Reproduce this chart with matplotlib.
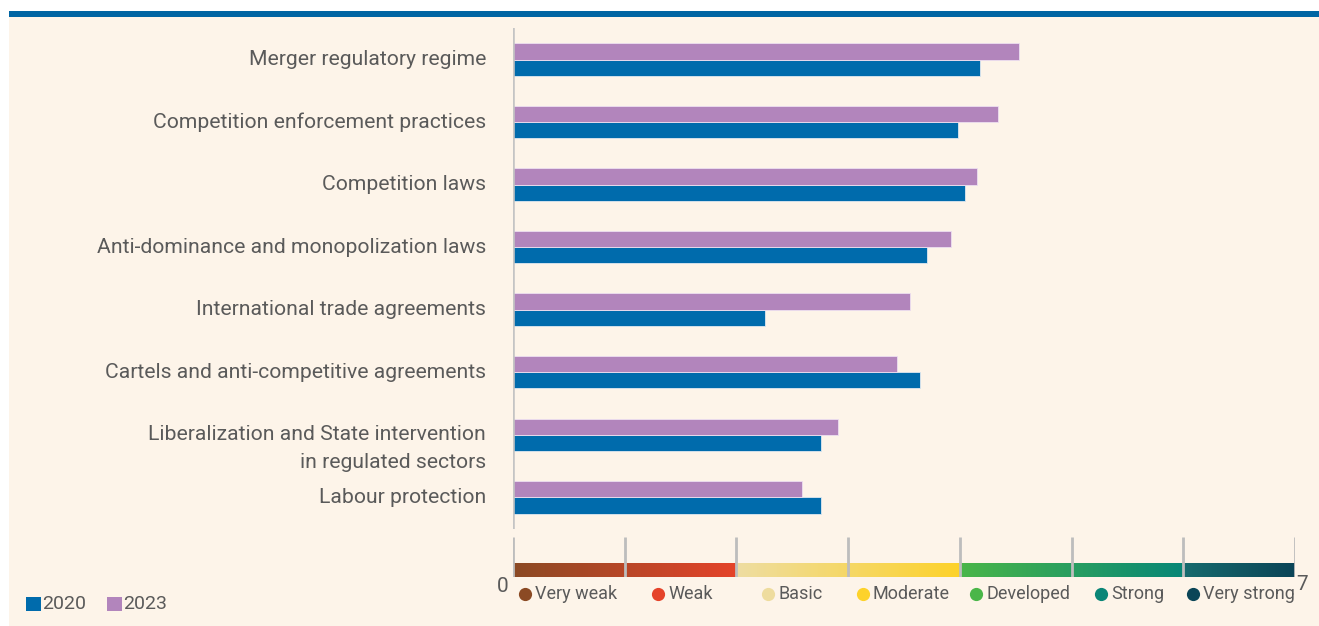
import numpy as np
import matplotlib
matplotlib.use("Agg")
import matplotlib.pyplot as plt
from matplotlib import font_manager
from matplotlib.colors import to_rgb
from matplotlib.patches import Rectangle

# pick a narrow sans if we have one
names = {f.name for f in font_manager.fontManager.ttflist}
FONT = "Liberation Sans Narrow" if "Liberation Sans Narrow" in names else "Roboto"
plt.rcParams["font.family"] = [FONT, "DejaVu Sans"]

# data (scale 0-7)
categories = [
    "Merger regulatory regime",
    "Competition enforcement practices",
    "Competition laws",
    "Anti-dominance and monopolization laws",
    "International trade agreements",
    "Cartels and anti-competitive agreements",
    "Liberalization and State intervention\nin regulated sectors",
    "Labour protection",
]
values_2020 = [4.18, 3.98, 4.05, 3.71, 2.26, 3.64, 2.76, 2.76]
values_2023 = [4.53, 4.34, 4.15, 3.92, 3.55, 3.44, 2.91, 2.59]
series_names = ["2020", "2023"]

scale_min, scale_max = 0, 7
levels = ["Very weak", "Weak", "Basic", "Moderate", "Developed", "Strong", "Very strong"]

# style
BLUE = "#006BAC"
PURPLE = "#B285BC"
CREAM = "#FDF4E9"
TEXT = "#5A5A5A"
GRID = "#BDBDBD"
level_colors = ["#8B4A24", "#E5432A", "#EEDC9E", "#FDD22A", "#4AB649", "#0A8677", "#0B4557"]
# gradient stops along the 0-7 scale
grad_stops = [
    (0.0, "#8B4A24"), (2.0, "#E5432A"),
    (2.0, "#EEDDA2"), (4.0, "#FDD22A"),
    (4.0, "#4AB649"), (6.0, "#078777"),
    (6.0, "#176B6E"), (7.0, "#0B4457"),
]

W, H = 1319, 626
fig = plt.figure(figsize=(W / 100, H / 100), dpi=100)
fig.patch.set_facecolor("white")


def frac(x0, y0, x1, y1):
    # pixel box -> figure fraction rect
    return [x0 / W, 1 - y1 / H, (x1 - x0) / W, (y1 - y0) / H]


# background layer in pixel coords
bg = fig.add_axes([0, 0, 1, 1], zorder=0)
bg.set_xlim(0, W)
bg.set_ylim(H, 0)
bg.axis("off")
bg.add_patch(Rectangle((9, 17), W - 9, H - 17, color=CREAM, lw=0))
bg.add_patch(Rectangle((9, 11), W - 9, 5.5, color="#0065A3", lw=0))

# main bars
ax = fig.add_axes(frac(513, 28.5, 1295, 528.5), zorder=1)
ax.set_facecolor("none")
y = np.arange(len(categories))
h = 0.26
ax.barh(y + h / 2, values_2020, height=h, color=BLUE, edgecolor="#dfe8f0", lw=0.6)
ax.barh(y - h / 2, values_2023, height=h, color=PURPLE, edgecolor="#eddff0", lw=0.6)
ax.set_xlim(scale_min, scale_max)
ax.set_ylim(len(categories) - 0.5, -0.5)
for s in ax.spines.values():
    s.set_visible(False)
ax.axvline(0, color="#C4C4C4", lw=2.6, zorder=3)
ax.set_xticks([])
ax.set_yticks([])
for i, lab in enumerate(categories):
    for j, line in enumerate(lab.split("\n")):
        ax.text(-0.24, i + j * 0.45, line, ha="right", va="center",
                fontsize=15.2, color=TEXT)

# scale bar
ax2 = fig.add_axes(frac(513, 537, 1295, 577), zorder=1)
ax2.set_facecolor("none")
ax2.set_xlim(scale_min, scale_max)
ax2.set_ylim(0, 40)
ax2.axis("off")
xs = np.linspace(scale_min, scale_max, 1400)
img = np.zeros((1, len(xs), 3))
for k in range(0, len(grad_stops), 2):
    (a, ca), (b, cb) = grad_stops[k], grad_stops[k + 1]
    m = (xs >= a) & (xs <= b)
    t = ((xs[m] - a) / (b - a))[:, None]
    img[0, m] = (1 - t) * np.array(to_rgb(ca)) + t * np.array(to_rgb(cb))
ax2.imshow(img, extent=(scale_min, scale_max, 0, 14), aspect="auto", zorder=1)
for v in range(scale_min, scale_max + 1):
    ax2.plot([v, v], [0, 40], color=GRID, lw=2, zorder=2, solid_capstyle="butt")
ax2.text(scale_min - 0.09, -10, str(scale_min), ha="center", va="center",
         fontsize=15, color=TEXT, clip_on=False)
ax2.text(scale_max + 0.065, -8, str(scale_max), ha="center", va="center",
         fontsize=15, color=TEXT, clip_on=False)

# level legend
level_x = [525, 658, 768, 863, 976, 1101, 1193]
for lx, name, c in zip(level_x, levels, level_colors):
    bg.plot(lx, 594, "o", ms=9.5, color=c, mec="none", zorder=5)
    bg.text(lx + 10, 594, name, ha="left", va="center", fontsize=13, color=TEXT, zorder=5)

# series legend
for lx, name, c in zip([26, 107], series_names, [BLUE, PURPLE]):
    bg.add_patch(Rectangle((lx, 597), 15, 14, color=c, lw=0, zorder=5))
    bg.text(lx + 16.5, 604, name, ha="left", va="center", fontsize=14, color=TEXT, zorder=5)

fig.savefig("out.png", dpi=100)
